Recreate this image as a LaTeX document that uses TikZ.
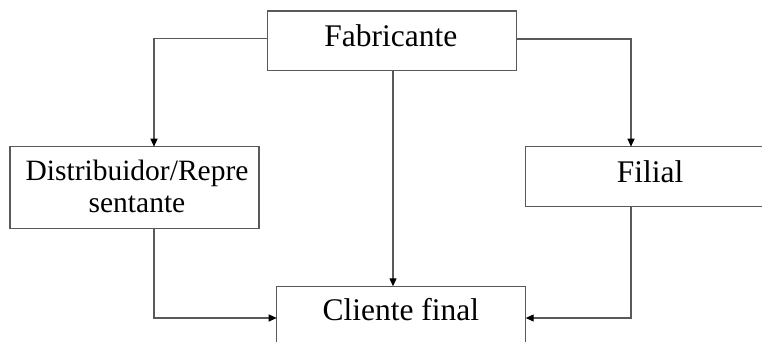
\documentclass[tikz,border=0pt]{standalone}
\usepackage{fontspec}
\setmainfont{Liberation Serif}
\usetikzlibrary{arrows.meta}
\begin{document}
\begin{tikzpicture}[x=1pt,y=-1pt,
  box/.style={draw=black!65, line width=1.4pt, minimum width=249pt, inner sep=0pt, outer sep=0pt, anchor=north west},
  lbl/.style={anchor=base, inner sep=0pt, font=\fontsize{31.5}{33}\selectfont, text=black},
  smalllbl/.style={lbl, font=\fontsize{29.5}{33}\selectfont},
  conn/.style={draw=black!65, line width=1.2pt, -{Triangle[length=8pt,width=7pt,color=black]}}
]
\useasboundingbox (0,0) rectangle (762,342);
\clip (0,0) rectangle (762,342);
% boxes
\node[box, minimum height=59.7pt] (fab) at (267.7,11) {};
\node[box, minimum height=81.6pt] (dist) at (10,146.7) {};
\node[box, minimum height=59.6pt] (fil) at (525.3,146.7) {};
\node[box, minimum height=60pt] (cli) at (276.7,286.3) {};
% texts
\node[lbl] (tfab) at (390.8,46.7) {Fabricante};
\node[smalllbl] (tdist1) at (137,180) {Distribuidor/Repre};
\node[smalllbl] (tdist2) at (137,212.7) {sentante};
\node[lbl] (tfil) at (650,182.7) {Filial};
\node[lbl] (tcli) at (400.8,320.7) {Cliente final};
% connectors
\draw[conn] ([yshift=2.15pt]fab.west) -| ([xshift=19.5pt]dist.north);
\draw[conn] ([yshift=1.8pt]fab.east) -| ([xshift=-18.8pt]fil.north);
\draw[conn] ([xshift=0.8pt]fab.south) -- ([xshift=0.8pt]fab.south |- cli.north);
\draw[conn] ([xshift=19.5pt]dist.south) |- ([yshift=-1.7pt]cli.west);
\draw[conn] ([xshift=-18.8pt]fil.south) |- ([yshift=-1.7pt]cli.east);
\end{tikzpicture}
\end{document}
